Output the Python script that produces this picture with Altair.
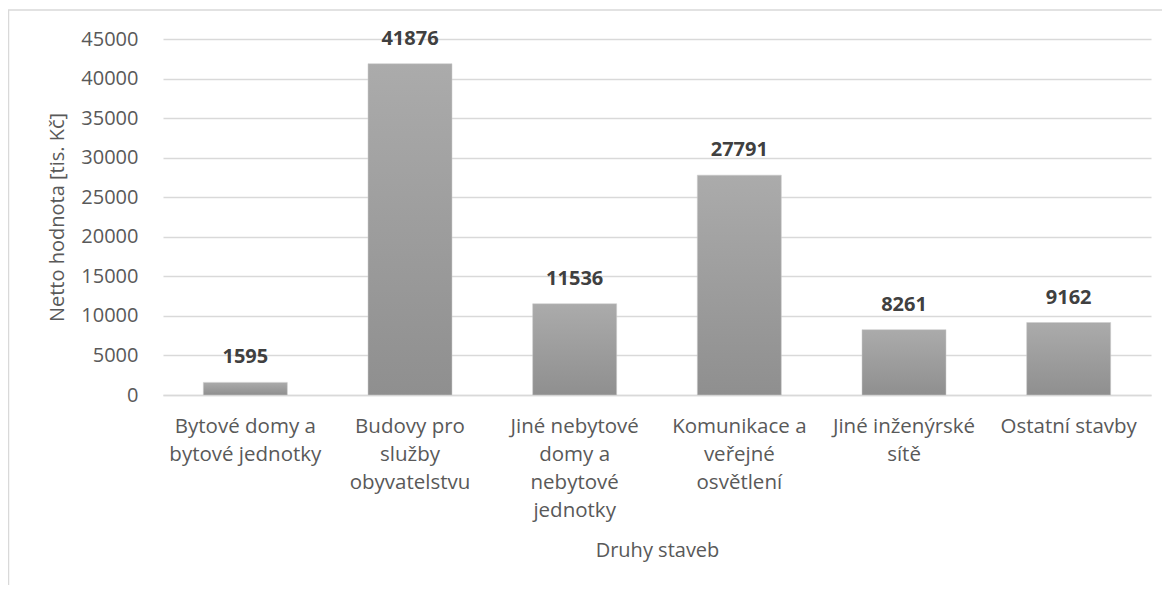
import altair as alt
import pandas as pd

categories = [
    "Bytové domy a|bytové jednotky",
    "Budovy pro|služby|obyvatelstvu",
    "Jiné nebytové|domy a|nebytové|jednotky",
    "Komunikace a|veřejné|osvětlení",
    "Jiné inženýrské|sítě",
    "Ostatní stavby",
]
values = [1595, 41876, 11536, 27791, 8261, 9162]
y_ticks = [0, 5000, 10000, 15000, 20000, 25000, 30000, 35000, 40000, 45000]

df = pd.DataFrame({"druh": categories, "hodnota": values})

FONT = "Open Sans"
AX = "#595959"
GRID = "#d9d9d9"

x = alt.X(
    "druh:N",
    sort=None,
    title="Druhy staveb",
    scale=alt.Scale(paddingInner=0.49, paddingOuter=0.245),
    axis=alt.Axis(
        labelExpr="split(datum.label, '|')",
        labelAngle=0,
        labelLineHeight=28,
        labelFontSize=20.5,
        labelFont=FONT,
        labelColor=AX,
        labelPadding=21,
        labelLimit=300,
        ticks=False,
        domainColor=GRID,
        domainWidth=1.5,
        titleFont=FONT,
        titleFontSize=20,
        titleColor=AX,
        titleFontWeight="normal",
        titlePadding=20,
        grid=False,
    ),
)
y = alt.Y(
    "hodnota:Q",
    title="Netto hodnota [tis. Kč]",
    scale=alt.Scale(domain=[0, 45000], nice=False),
    axis=alt.Axis(
        values=y_ticks,
        format="d",
        domain=False,
        ticks=False,
        labelPadding=25,
        labelFont=FONT,
        labelFontSize=20,
        labelColor=AX,
        gridColor=GRID,
        gridWidth=1.5,
        titleFont=FONT,
        titleFontSize=20,
        titleColor=AX,
        titleFontWeight="normal",
        titleX=-106,
        titleY=178,
        titleBaseline="middle",
        titleAlign="center",
    ),
)

base = alt.Chart(df)

bars = base.mark_bar(
    color=alt.Gradient(
        gradient="linear",
        stops=[
            alt.GradientStop(color="#ababab", offset=0),
            alt.GradientStop(color="#8f8f8f", offset=1),
        ],
        x1=0, x2=0, y1=0, y2=1,
    ),
    stroke="#cccccc",
    strokeWidth=1,
    strokeOpacity=0.5,
).encode(x=x, y=y)

labels = base.mark_text(
    dy=-25,
    baseline="middle",
    fontWeight="bold",
    fontSize=20,
    font=FONT,
    color="#404040",
).encode(x=x, y=y, text=alt.Text("hodnota:Q", format="d"))

frame = alt.Chart(pd.DataFrame({"f": [0]})).mark_rect(
    fillOpacity=0, stroke=GRID, strokeWidth=1.5
).encode(
    x=alt.value(-154.5), x2=alt.value(1300), y=alt.value(-29), y2=alt.value(900)
)

chart = (
    alt.layer(frame, bars, labels)
    .properties(
        width=988,
        height=356,
        autosize=alt.AutoSizeParams(type="none"),
        padding={"left": 155, "top": 31, "right": 11, "bottom": 190},
        background="white",
    )
    .configure_view(strokeWidth=0)
)

chart.save("out.html", embed_options={"renderer": "svg", "actions": False})
